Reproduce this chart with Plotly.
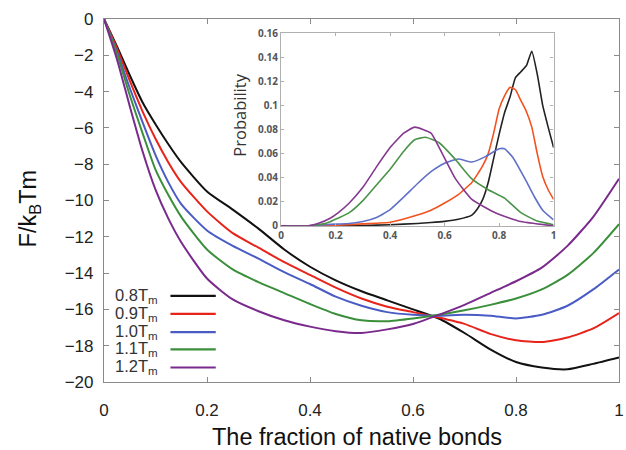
import plotly.graph_objects as go

# ---------------- main panel data: F/kBTm vs fraction of native bonds ----------------
q_main = [0, 0.025, 0.05, 0.075, 0.1, 0.125, 0.15, 0.2, 0.25, 0.3, 0.35, 0.4, 0.45,
          0.5, 0.55, 0.6, 0.65, 0.7, 0.75, 0.8, 0.85, 0.9, 0.95, 1.0]
F_08 = [0, -1.5, -3.1, -4.6, -5.8, -6.9, -7.9, -9.5, -10.5, -11.55, -12.7, -13.65, -14.4,
        -15.0, -15.5, -16.0, -16.5, -17.3, -18.2, -18.9, -19.2, -19.3, -19.0, -18.65]
F_09 = [0, -1.6, -3.4, -5.1, -6.6, -7.9, -9.0, -10.6, -11.8, -12.6, -13.4, -14.1, -14.8,
        -15.4, -15.85, -16.15, -16.45, -16.8, -17.35, -17.7, -17.8, -17.55, -17.05, -16.2]
F_10 = [0, -1.8, -3.8, -5.7, -7.5, -9.0, -10.2, -11.65, -12.5, -13.2, -13.95, -14.6, -15.3,
        -15.8, -16.15, -16.3, -16.35, -16.3, -16.35, -16.5, -16.3, -15.8, -14.9, -13.8]
F_11 = [0, -1.9, -4.2, -6.3, -8.3, -9.7, -10.9, -12.7, -13.8, -14.5, -15.1, -15.7, -16.25,
        -16.6, -16.65, -16.5, -16.3, -16.05, -15.75, -15.4, -14.9, -14.1, -12.9, -11.3]
F_12 = [0, -2.2, -4.8, -7.3, -9.4, -11.0, -12.3, -14.3, -15.45, -16.1, -16.6, -16.95, -17.2,
        -17.3, -17.1, -16.8, -16.3, -15.75, -15.1, -14.45, -13.7, -12.5, -10.9, -8.8]

# ---------------- inset data: probability distributions ----------------
q_p08 = [0, 0.2, 0.3, 0.4, 0.5, 0.55, 0.6, 0.65, 0.7, 0.72, 0.74, 0.76, 0.78, 0.8, 0.82,
         0.84, 0.86, 0.88, 0.9, 0.92, 0.94, 0.96, 0.98, 1.0]
P_08 = [0, 0, 0.0003, 0.001, 0.002, 0.0028, 0.0038, 0.0055, 0.009, 0.014, 0.022, 0.036,
        0.056, 0.076, 0.094, 0.107, 0.123, 0.128, 0.133, 0.145, 0.126, 0.1, 0.082, 0.065]
q_p09 = [0, 0.1, 0.2, 0.3, 0.4, 0.5, 0.55, 0.6, 0.65, 0.7, 0.74, 0.76, 0.78, 0.8, 0.82,
         0.84, 0.86, 0.88, 0.9, 0.92, 0.94, 0.96, 0.98, 1.0]
P_09 = [0, 0, 0.0005, 0.0017, 0.003, 0.009, 0.013, 0.019, 0.026, 0.036, 0.05, 0.06, 0.077,
        0.097, 0.108, 0.115, 0.113, 0.104, 0.095, 0.082, 0.06, 0.041, 0.03, 0.022]
q_p10 = [0, 0.1, 0.16, 0.2, 0.25, 0.3, 0.35, 0.4, 0.45, 0.5, 0.55, 0.6, 0.65, 0.7, 0.75,
         0.8, 0.82, 0.85, 0.9, 0.93, 0.96, 1.0]
P_10 = [0, 0, 0.001, 0.0015, 0.002, 0.0036, 0.007, 0.0136, 0.024, 0.035, 0.045, 0.052,
        0.0555, 0.053, 0.0575, 0.064, 0.064, 0.057, 0.037, 0.024, 0.013, 0.005]
q_p11 = [0, 0.1, 0.15, 0.18, 0.21, 0.25, 0.3, 0.35, 0.4, 0.45, 0.49, 0.53, 0.58, 0.64, 0.7,
         0.76, 0.82, 0.88, 0.94, 1.0]
P_11 = [0, 0, 0.0015, 0.0035, 0.0065, 0.011, 0.021, 0.034, 0.047, 0.062, 0.0715, 0.0736,
        0.069, 0.055, 0.039, 0.030, 0.023, 0.011, 0.004, 0.001]
q_p12 = [0, 0.1, 0.135, 0.18, 0.21, 0.25, 0.3, 0.35, 0.4, 0.45, 0.49, 0.55, 0.58, 0.64,
         0.7, 0.79, 0.88, 1.0]
P_12 = [0, 0, 0.002, 0.0064, 0.011, 0.019, 0.032, 0.049, 0.065, 0.077, 0.082, 0.077, 0.065,
        0.039, 0.022, 0.0105, 0.0036, 0]

labels = ["0.8T<sub>m</sub>", "0.9T<sub>m</sub>", "1.0T<sub>m</sub>",
          "1.1T<sub>m</sub>", "1.2T<sub>m</sub>"]
colors_main = ["#111111", "#e8231a", "#4a5cc4", "#3b8f3b", "#7a2a8c"]
colors_inset = ["#222222", "#f2521e", "#6070c8", "#4a944a", "#84398f"]

# legend sample positions (in main-axis data units)
leg_y = [-15.25, -16.25, -17.25, -18.2, -19.2]
leg_x = [0.129, 0.217]

main_F = [F_08, F_09, F_10, F_11, F_12]
inset_q = [q_p08, q_p09, q_p10, q_p11, q_p12]
inset_P = [P_08, P_09, P_10, P_11, P_12]

fig = go.Figure()
for F, c in zip(main_F, colors_main):
    fig.add_trace(go.Scatter(x=q_main, y=F, mode="lines",
                             line=dict(color=c, width=2, shape="spline", smoothing=0.6),
                             xaxis="x", yaxis="y", showlegend=False, hoverinfo="skip"))
for q, P, c in zip(inset_q, inset_P, colors_inset):
    fig.add_trace(go.Scatter(x=q, y=P, mode="lines",
                             line=dict(color=c, width=1.6, shape="spline", smoothing=0.45),
                             xaxis="x2", yaxis="y2", showlegend=False, hoverinfo="skip"))

# legend drawn to mimic original (text then line)
for lab, c, ly in zip(labels, colors_main, leg_y):
    fig.add_shape(type="line", xref="x", yref="y", x0=leg_x[0], x1=leg_x[1], y0=ly, y1=ly,
                  line=dict(color=c, width=2.2))
    fig.add_annotation(xref="x", yref="y", x=0.108, y=ly, text=lab, showarrow=False,
                       xanchor="right", yanchor="middle",
                       font=dict(family="Liberation Sans, Arial", size=16.5, color="#333333"))

axis_common = dict(showgrid=False, zeroline=False, showline=True, linecolor="#8a8a8a",
                   linewidth=1.2, mirror="ticks", ticks="inside", tickcolor="#8a8a8a",
                   ticklen=5)
inset_axis = {**axis_common, "ticklen": 3, "linecolor": "#b0b0b0", "tickcolor": "#b0b0b0"}
fig.update_layout(
    width=626, height=450,
    margin=dict(l=104, r=2, t=19, b=68),
    paper_bgcolor="white", plot_bgcolor="white",
    xaxis=dict(domain=[0, 1], range=[0, 1], tickvals=[0, 0.2, 0.4, 0.6, 0.8, 1],
               ticktext=["0", "0.2", "0.4", "0.6", "0.8", "1"], ticklabelstandoff=12,
               tickfont=dict(family="Liberation Sans, Arial", size=17, color="#222"),
               anchor="y", **axis_common),
    yaxis=dict(domain=[0, 1], range=[-20, 0], tickvals=list(range(-20, 1, 2)),
               ticklabelstandoff=6,
               tickfont=dict(family="Liberation Sans, Arial", size=17, color="#222"),
               anchor="x", **axis_common),
    xaxis2=dict(domain=[0.344, 0.873], range=[0, 1], tickvals=[0, 0.2, 0.4, 0.6, 0.8, 1],
                ticktext=["0", "0.2", "0.4", "0.6", "0.8", "1"], anchor="y2",
                tickfont=dict(family="Open Sans", size=10, color="#555555", weight="bold"),
                **inset_axis),
    yaxis2=dict(domain=[0.43, 0.961], range=[0, 0.16],
                tickvals=[0, 0.02, 0.04, 0.06, 0.08, 0.1, 0.12, 0.14, 0.16],
                ticktext=["0", "0.02", "0.04", "0.06", "0.08", "0.1", "0.12", "0.14", "0.16"],
                anchor="x2",
                tickfont=dict(family="Open Sans", size=10, color="#555555", weight="bold"),
                **inset_axis),
)

# inset y title
fig.add_annotation(xref="paper", yref="paper", x=0.2615, y=0.7355, text="Probability",
                   textangle=-90, showarrow=False, xanchor="center", yanchor="middle",
                   font=dict(family="Open Sans", size=16.5, color="#333333"))
# axis titles
fig.add_annotation(xref="paper", yref="paper", x=-0.145, y=0.479, text="F/k<sub>B</sub>Tm",
                   textangle=-90, showarrow=False, xanchor="center", yanchor="middle",
                   font=dict(family="Liberation Sans, Arial", size=23.5, color="#111"))
fig.add_annotation(xref="paper", yref="paper", x=0.492, y=-0.152, text="The fraction of native bonds",
                   showarrow=False, xanchor="center", yanchor="middle",
                   font=dict(family="Liberation Sans, Arial", size=23.5, color="#111"))

fig.write_html("out.html")
